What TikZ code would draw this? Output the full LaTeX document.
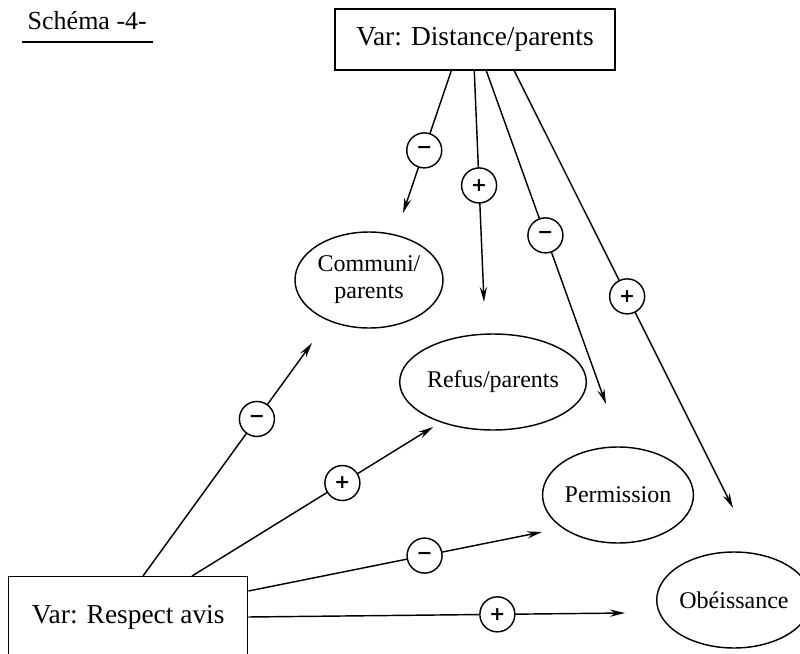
\documentclass[tikz,border=0pt]{standalone}
\usepackage{fontspec}
\setmainfont{Liberation Serif}
\newfontfamily\signfont{DejaVu Sans}
\usetikzlibrary{shapes.geometric,arrows.meta}
\begin{document}
\begin{tikzpicture}[x=0.5pt,y=-0.5pt,
  line width=0.72pt,
  varbox/.style={draw, rectangle, font=\fontsize{13.7}{15}\selectfont},
  outcome/.style={draw, ellipse, minimum width=74pt, minimum height=48pt,
    inner sep=0pt, align=center, font=\fontsize{12}{13.5}\selectfont},
  sign/.style={draw, circle, fill=white, minimum size=17.5pt, inner sep=0pt,
    font=\signfont\bfseries\fontsize{9.5}{9.5}\selectfont},
  link/.style={-{Stealth[length=7.5pt,width=3.6pt]}}
]
\useasboundingbox (0,0) rectangle (800,654);

% title with underline
\node[anchor=base west, inner xsep=2.5pt, font=\fontsize{13}{14}\selectfont]
  (title) at (22,29) {Schéma -4-};
\draw ([yshift=-6.5pt]title.base west) -- ([yshift=-6.5pt]title.base east);

% the two variables
\node[varbox, minimum width=140pt, minimum height=30.5pt] (dist) at (475,39.5)
  {Var: Distance/parents};
\node[varbox, anchor=north west, minimum width=119.5pt, inner ysep=0pt,
  text height=23.5pt, text depth=30pt] (resp) at (8,576) {Var: Respect avis};

% outcomes
\node[outcome] (comm) at (369,280) {Communi/\\parents};
\node[outcome] (refus) at (493,382) {Refus/parents};
\node[outcome] (perm) at (618,495) {Permission};
\node[outcome, minimum width=75pt] (obei) at (734,600) {Obéissance};

% free ends of the arrows
\coordinate (t1) at (403,213);
\coordinate (t2) at (484,302);
\coordinate (t3) at (606,404);
\coordinate (t4) at (733,508);
\coordinate (b1) at (312,343);
\coordinate (b2) at (433,427);
\coordinate (b3) at (542,532);
\coordinate (b4) at (625,613);

% effects of distance
\draw[link] ([xshift=58.5pt]dist.south west) -- node[sign, pos=0.56]{−} (t1);
\draw[link] ([xshift=70pt]dist.south west) -- node[sign, pos=0.496]{+} (t2);
\draw[link] ([xshift=76pt]dist.south west) -- node[sign, pos=0.494]{−} (t3);
\draw[link] ([xshift=90pt]dist.south west) -- node[sign, pos=0.516]{+} (t4);

% effects of respect
\draw[link] ([xshift=67.5pt]resp.north west) -- node[sign, pos=0.674]{−} (b1);
\draw[link] ([xshift=92pt]resp.north west) -- node[sign, pos=0.624]{+} (b2);
\draw[link] ([yshift=-7.5pt]resp.north east) -- node[sign, pos=0.6]{−} (b3);
\draw[link] ([yshift=-20.5pt]resp.north east) -- node[sign, pos=0.661]{+} (b4);
\end{tikzpicture}
\end{document}
